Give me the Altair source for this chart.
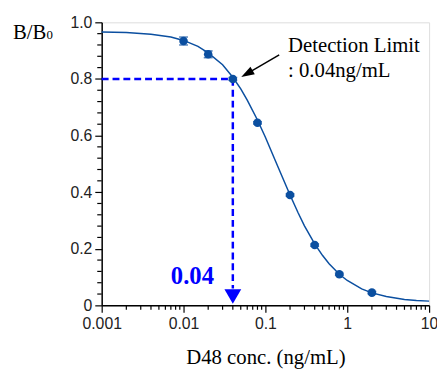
import altair as alt
import pandas as pd

# measured points
conc = [0.01, 0.02, 0.04, 0.08, 0.2, 0.4, 0.8, 2.0]
bb0 = [0.934, 0.887, 0.800, 0.645, 0.390, 0.213, 0.110, 0.045]
err = [0.014, 0.012, 0.005, 0.004, 0.004, 0.004, 0.004, 0.004]

# fitted curve
curve_x = [0.001, 0.002, 0.004, 0.007, 0.01, 0.015, 0.02, 0.03, 0.04, 0.05, 0.06,
           0.08, 0.1, 0.13, 0.16, 0.2, 0.25, 0.3, 0.4, 0.5, 0.6, 0.8, 1.0, 1.5,
           2.0, 3.0, 5.0, 7.0, 10.0]
curve_y = [0.966, 0.964, 0.958, 0.948, 0.936, 0.915, 0.892, 0.850, 0.806, 0.765, 0.725,
           0.655, 0.594, 0.516, 0.455, 0.390, 0.328, 0.281, 0.217, 0.176, 0.147, 0.110,
           0.088, 0.058, 0.044, 0.031, 0.021, 0.017, 0.015]

# detection limit
lod_x = [0.04]
lod_y = [0.8]
lod_label = ["0.04"]
x_start = [0.001]
arrow_bottom = [0.06]
tri_y = [0.031]

x_major = [0.001, 0.01, 0.1, 1, 10]
x_minor = [m * d for d in [0.001, 0.01, 0.1, 1] for m in range(2, 10)]
y_major = [0, 0.2, 0.4, 0.6, 0.8, 1.0]
y_minor = [0.04, 0.08, 0.12, 0.16, 0.24, 0.28, 0.32, 0.36, 0.44, 0.48, 0.52, 0.56,
           0.64, 0.68, 0.72, 0.76, 0.84, 0.88, 0.92, 0.96]

BLUE_D = "#0b4fa0"
BLUE = "#0000ff"
SERIF = "Liberation Serif"
SANS = "Liberation Sans"

pts = pd.DataFrame({"x": conc, "y": bb0, "lo": [a - e for a, e in zip(bb0, err)],
                    "hi": [a + e for a, e in zip(bb0, err)]})
cur = pd.DataFrame({"x": curve_x, "y": curve_y})
lod = pd.DataFrame({"x": lod_x, "y": lod_y, "x0": x_start, "yb": arrow_bottom,
                    "ty": tri_y, "lab": lod_label})

xs = alt.Scale(type="log", domain=[0.001, 10], nice=False)
ys = alt.Scale(domain=[0, 1], nice=False)

xax = alt.Axis(values=x_major, labelExpr="datum.value >= 1 ? format(datum.value, 'd') : format(datum.value, '')",
               title="D48 conc. (ng/mL)", titleFont=SERIF, titleFontSize=21, titleFontWeight="normal",
               titleColor="black", titleBaseline="alphabetic", titleY=59, titleX=166,
               labelFont=SANS, labelFontSize=16, labelColor="#222222", tickSize=7,
               labelPadding=3, tickColor="black", domainColor="black", domainWidth=1.5,
               tickWidth=1.2, grid=False, labelFlush=False)
yax = alt.Axis(values=y_major, labelExpr="datum.value == 0 ? '0' : format(datum.value, '.1f')",
               title=None, labelFont=SANS, labelFontSize=16, labelColor="#222222", tickSize=7,
               labelPadding=3, tickColor="black", domainColor="black", domainWidth=1.5,
               tickWidth=1.2, grid=False)

X = alt.X("x:Q", scale=xs, axis=xax)
Y = alt.Y("y:Q", scale=ys, axis=yax)

curve = alt.Chart(cur).mark_line(color=BLUE_D, strokeWidth=1.5).encode(x=X, y=Y)

hline = alt.Chart(lod).mark_rule(color=BLUE, strokeWidth=2.5, strokeDash=[7, 4]).encode(
    x=alt.X("x0:Q", scale=xs), x2="x:Q", y=alt.Y("y:Q", scale=ys))
vline = alt.Chart(lod).mark_rule(color=BLUE, strokeWidth=2.5, strokeDash=[7, 4]).encode(
    x=alt.X("x:Q", scale=xs), y=alt.Y("y:Q", scale=ys), y2="yb:Q")
tri = alt.Chart(lod).mark_point(shape="triangle-down", filled=True, color=BLUE, size=290, opacity=1).encode(
    x=alt.X("x:Q", scale=xs), y=alt.Y("ty:Q", scale=ys))
lodtext = alt.Chart(lod).mark_text(font=SERIF, fontSize=25, fontWeight="bold", color=BLUE,
                                   align="center", baseline="alphabetic", dx=-41, dy=0).encode(
    x=alt.X("x:Q", scale=xs), y=alt.value(265), text="lab:N")

ebar = alt.Chart(pts).mark_rule(color=BLUE_D, strokeWidth=1.5).encode(
    x=alt.X("x:Q", scale=xs), y=alt.Y("lo:Q", scale=ys), y2="hi:Q")
capl = alt.Chart(pts).mark_tick(color=BLUE_D, orient="horizontal", size=9, thickness=1.5).encode(
    x=alt.X("x:Q", scale=xs), y=alt.Y("lo:Q", scale=ys))
caph = alt.Chart(pts).mark_tick(color=BLUE_D, orient="horizontal", size=9, thickness=1.5).encode(
    x=alt.X("x:Q", scale=xs), y=alt.Y("hi:Q", scale=ys))
dots = alt.Chart(pts).mark_circle(color=BLUE_D, size=75, opacity=1).encode(
    x=alt.X("x:Q", scale=xs), y=alt.Y("y:Q", scale=ys))

xminor = alt.Chart(pd.DataFrame({"x": x_minor})).mark_rule(color="black", strokeWidth=1.2).encode(
    x=alt.X("x:Q", scale=xs), y=alt.value(287), y2=alt.value(291.5))
yminor = alt.Chart(pd.DataFrame({"y": y_minor})).mark_rule(color="black", strokeWidth=1.2).encode(
    y=alt.Y("y:Q", scale=ys), x=alt.value(-4.5), x2=alt.value(0))

ann = pd.DataFrame({"t": ["Detection Limit", ": 0.04ng/mL"], "py": [30, 55]})
anntext = alt.Chart(ann).mark_text(font=SERIF, fontSize=21, color="black", align="left",
                                   baseline="alphabetic").encode(
    x=alt.value(189), y=alt.Y("py:Q", scale=None), text="t:N")

arrow_line = alt.Chart(pd.DataFrame({"a": [0]})).mark_rule(color="black", strokeWidth=1.5).encode(
    x=alt.value(180), y=alt.value(33), x2=alt.value(150), y2=alt.value(50.5))
arrow_head = alt.Chart(pd.DataFrame({"a": [0]})).mark_point(
    shape="M0,-1L-0.55,0.65L0.55,0.65Z", filled=True, color="black", size=260, angle=240, opacity=1).encode(
    x=alt.value(148.5), y=alt.value(51.5))

ytitle = pd.DataFrame({"t": ["B/B", "0"], "px": [-90, -56], "py": [17, 17], "fs": [21, 13]})
ytext = alt.Chart(ytitle).mark_text(font=SERIF, color="black", align="left", baseline="alphabetic").encode(
    x=alt.X("px:Q", scale=None), y=alt.Y("py:Q", scale=None), text="t:N",
    size=alt.Size("fs:Q", scale=None, legend=None))

chart = alt.layer(
    xminor, yminor, curve, hline, vline, tri, lodtext, ebar, capl, caph, dots,
    anntext, arrow_line, arrow_head, ytext
).properties(
    width=332, height=287,
    autosize=alt.AutoSizeParams(type="none"),
    padding={"left": 95, "top": 12, "right": 8, "bottom": 62},
).configure_view(stroke="black", strokeWidth=1.5).configure(background="white")

chart.save("out.html", embed_options={"renderer": "svg", "actions": False})
